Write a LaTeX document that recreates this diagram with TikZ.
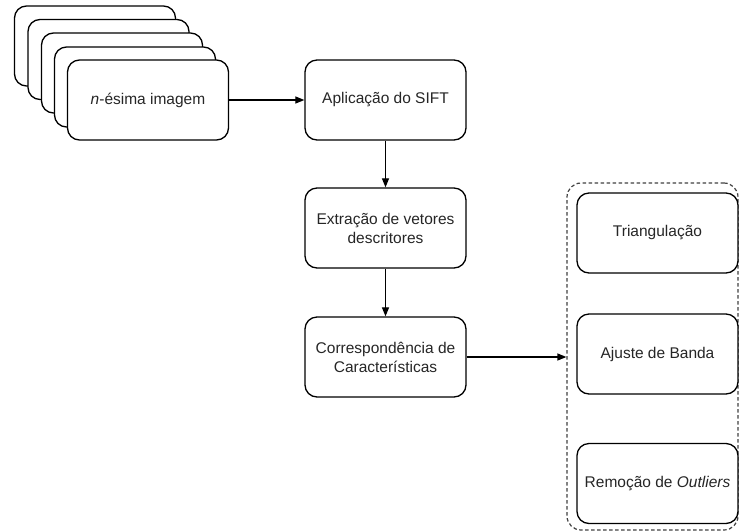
\documentclass[tikz,border=0pt]{standalone}
\usepackage{fontspec}
\setmainfont{Liberation Sans}
\usetikzlibrary{arrows.meta}
\begin{document}
\begin{tikzpicture}[x=1pt,y=-1pt,
  box/.style={draw=black, line width=1.3pt, rounded corners=12pt, fill=white,
    minimum width=161pt, minimum height=80pt, inner sep=0pt, align=center,
    font=\fontsize{15.5}{19}\selectfont, text=black!85},
  conn/.style={line width=1.2pt, -{Triangle[length=9pt,width=7pt]}},
  group/.style={draw=black!75, line width=1.2pt, dash pattern=on 3.5pt off 2.5pt, rounded corners=14pt}]
\useasboundingbox (0,0) rectangle (739,531);
% stacked image cards
\node[box] (card1) at (95,46) {};
\node[box] (card2) at (108.5,59.5) {};
\node[box] (card3) at (122,73) {};
\node[box] (card4) at (135,87) {};
\node[box] (card5) at (148,100) {\textit{n}-ésima imagem};
% main chain
\node[box] (sift) at (385.5,100) {Aplicação do SIFT};
\node[box] (extr) at (385.5,228) {Extração de vetores\\descritores};
\node[box] (corr) at (385.5,357) {Correspondência de\\Características};
% group
\node[group, minimum width=171pt, minimum height=347pt, inner sep=0pt] (grp) at (652.5,356.5) {};
\node[box] (tri) at (657.5,233) {Triangulação};
\node[box] (aju) at (657.5,354) {Ajuste de Banda};
\node[box] (rem) at (657.5,483.5) {Remoção de \textit{Outliers}};
% connectors
\draw[conn] (card5.east) -- (sift.west);
\draw[conn] (sift.south) -- (extr.north);
\draw[conn] (extr.south) -- (corr.north);
\draw[conn] (corr.east) -- (corr.east -| grp.west);
\end{tikzpicture}
\end{document}
